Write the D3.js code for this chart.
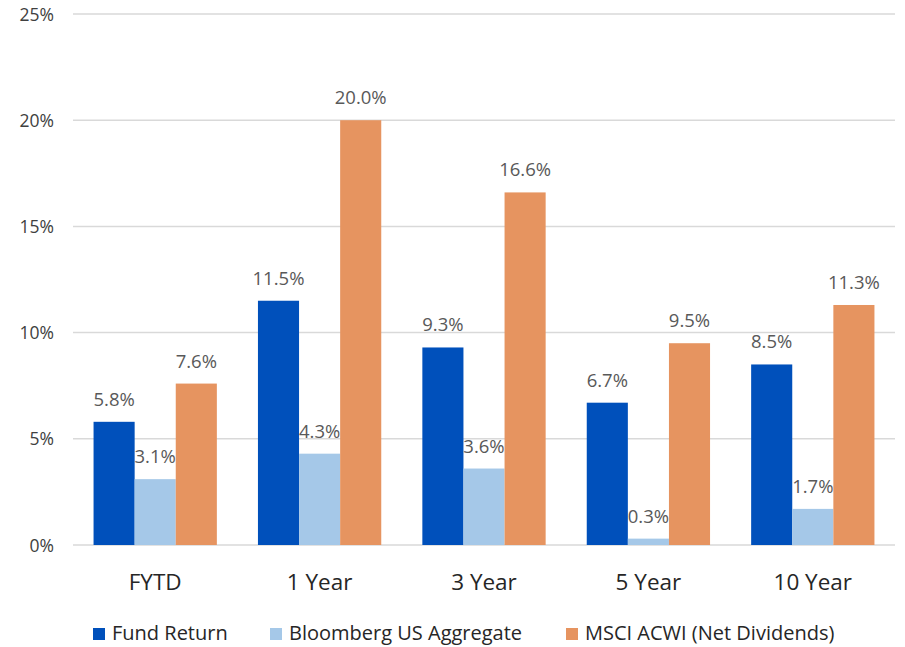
<!DOCTYPE html>
<html><head><meta charset="utf-8">
<script src="https://cdn.jsdelivr.net/npm/d3@7"></script>
<style>body{margin:0;background:#fff}svg{display:block}text{font-family:"Open Sans","Segoe UI",sans-serif}</style>
</head><body><svg id="c" width="905" height="647"></svg>
<script>
const categories = ["FYTD","1 Year","3 Year","5 Year","10 Year"];
const seriesNames = ["Fund Return","Bloomberg US Aggregate","MSCI ACWI (Net Dividends)"];
const fundReturn = [5.8, 11.5, 9.3, 6.7, 8.5];
const bloomberg = [3.1, 4.3, 3.6, 0.3, 1.7];
const msci = [7.6, 20.0, 16.6, 9.5, 11.3];
const yTicks = [0,5,10,15,20,25];
const colors = ["#0050BB","#A5C8E8","#E69460"];

(function(){
const series = [fundReturn, bloomberg, msci];
const svg = d3.select("#c");
const mLeft = 73, mRight = 895, mTop = 14, mBottom = 545;
const x = d3.scaleBand().domain(categories).range([mLeft, mRight]).paddingInner(0.25).paddingOuter(0.125);
const xs = d3.scaleBand().domain(d3.range(3)).range([0, x.bandwidth()]);
const y = d3.scaleLinear().domain([0,25]).range([mBottom, mTop]);

svg.append("g").selectAll("line").data(yTicks).join("line")
  .attr("x1", mLeft).attr("x2", mRight)
  .attr("y1", d=>y(d)).attr("y2", d=>y(d))
  .attr("stroke","#d9d9d9").attr("stroke-width",1.5);

const yAxis = d3.axisLeft(y).tickValues(yTicks).tickFormat(d=>d+"%").tickSize(0).tickPadding(0);
const gy = svg.append("g").attr("transform",`translate(54,0)`).call(yAxis);
gy.select(".domain").remove();
gy.selectAll("text").attr("font-size",17.5).attr("fill","#404040").attr("dy","0.35em").attr("font-family",null);

const data = [];
categories.forEach((c,i)=>series.forEach((s,j)=>data.push({c, j, v:s[i]})));
svg.append("g").selectAll("rect").data(data).join("rect")
  .attr("x", d=>x(d.c)+xs(d.j)).attr("width", xs.bandwidth())
  .attr("y", d=>y(d.v)).attr("height", d=>y(0)-y(d.v))
  .attr("fill", d=>colors[d.j]);

svg.append("g").selectAll("text").data(data).join("text")
  .attr("x", d=>x(d.c)+xs(d.j)+xs.bandwidth()/2)
  .attr("y", d=>y(d.v)-16)
  .attr("text-anchor","middle").attr("font-size",18.5).attr("fill","#595959")
  .text(d=>d.v.toFixed(1)+"%");

const xAxis = d3.axisBottom(x).tickSize(0).tickPadding(0);
const gx = svg.append("g").attr("transform",`translate(0,${mBottom})`).call(xAxis);
gx.select(".domain").remove();
gx.selectAll("text").attr("font-size",22.5).attr("fill","#262626").attr("font-family",null).attr("dy",0).attr("y",45);

const legX = [93, 270, 566];
const lg = svg.append("g").selectAll("g").data(seriesNames).join("g")
  .attr("transform",(d,i)=>`translate(${legX[i]},628)`);
lg.append("rect").attr("width",12).attr("height",12).attr("fill",(d,i)=>colors[i]);
lg.append("text").attr("x",19).attr("y",12).attr("font-size",20).attr("fill","#262626").text(d=>d);
})();
</script></body></html>
